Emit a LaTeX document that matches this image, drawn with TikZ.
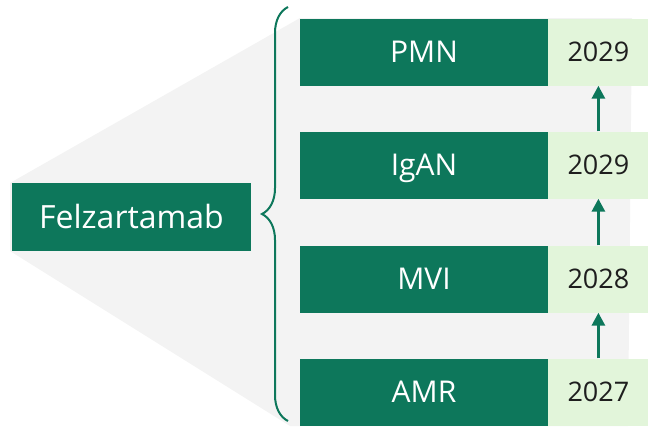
\documentclass[tikz,border=0pt]{standalone}
\usepackage{fontspec}
\setmainfont{Open Sans}
\usetikzlibrary{arrows.meta,positioning,decorations.pathreplacing}
\definecolor{FelzGreen}{RGB}{13,119,91}
\definecolor{YearGreen}{RGB}{226,245,218}
\definecolor{FanGray}{RGB}{243,243,243}
\definecolor{YearText}{RGB}{30,30,30}
\tikzset{
  indbox/.style={fill=FelzGreen,text=white,minimum width=248pt,minimum height=67pt,
    inner sep=0pt,text height=21.5pt,text depth=0pt,font=\fontsize{30}{36}\selectfont},
  yearbox/.style={fill=YearGreen,text=YearText,minimum width=100pt,minimum height=67pt,
    inner sep=0pt,text height=18pt,text depth=0pt,font=\fontsize{27}{32}\selectfont},
  steparrow/.style={-{Triangle[length=13pt,width=13pt]},line width=3pt,FelzGreen}
}
\begin{document}
\begin{tikzpicture}[x=1pt,y=-1pt]
  \useasboundingbox (0,0) rectangle (648,426);
  % grey fan behind the indications
  \fill[FanGray] (10,183)--(300,18)--(632,18)--(628,426)--(290,426)--(10,251)--cycle;
  \node[indbox,minimum width=239pt,minimum height=68pt,text height=23pt,
    font=\fontsize{32}{38}\selectfont] (drug) at (131.5,217) {Felzartamab};
  \foreach \lab/\yr/\yc [count=\i] in {PMN/2029/52,IgAN/2029/165,MVI/2028/279,AMR/2027/392}{
    \node[indbox] (ind\i) at (424,\yc) {\lab};
    \node[yearbox,right=0pt of ind\i] (yr\i) {\yr};
  }
  \draw[steparrow] (yr4.north) -- (yr3.south);
  \draw[steparrow] (yr3.north) -- (yr2.south);
  \draw[steparrow] (yr2.north) -- (yr1.south);
  % brace
  \draw[decorate,decoration={brace,amplitude=26pt},line width=2pt,FelzGreen] (288,421)--(288,7);
\end{tikzpicture}
\end{document}
